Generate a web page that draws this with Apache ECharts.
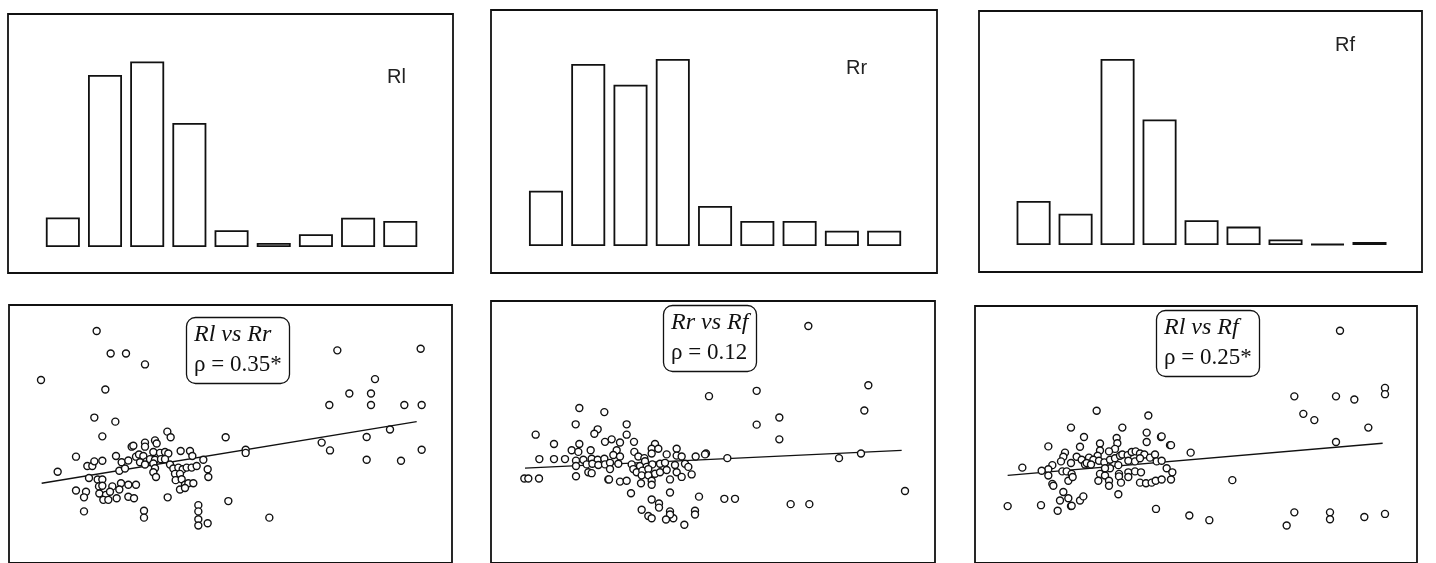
<!DOCTYPE html>
<html>
<head>
<meta charset="utf-8">
<script src="https://cdn.jsdelivr.net/npm/echarts@6/dist/echarts.min.js"></script>
<style>
html,body{margin:0;padding:0;background:#fff;overflow:hidden;}
#chart{width:1436px;height:563px;}
</style>
</head>
<body>
<div id="chart"></div>
<script>
// ---- histogram data (bin index, relative frequency) ----
const bins = [1, 2, 3, 4, 5, 6, 7, 8, 9];
const rlCounts = [7.4, 43, 46.4, 31, 4.2, 1, 3.2, 7.3, 6.5];
const rrCounts = [13.8, 45.5, 40.3, 46.75, 10, 6.25, 6.25, 3.8, 3.8];
const rfCounts = [11, 7.8, 46.5, 31.4, 6.2, 4.6, 1.4, 0.25, 0.75];
const histLabels = ['Rl', 'Rr', 'Rf'];

// ---- scatter data (read-off units) ----
const rlVsRr = [
[290,128],[332,200],[378,200],[435,235],[123,285],[316,315],[283,405],[346,418],[307,465],[1012,190],[1262,185],[1125,282],[1048,328],[1113,328],[988,365],[1113,365],[1213,365],[1265,365],[1170,443],[1100,467],[965,485],[990,510],[1265,508],[1100,540],[1203,543],[677,468],[737,508],[737,518],[173,578],[228,530],[252,705],[432,703],[432,725],[595,685],[595,705],[595,730],[595,750],[623,743],[808,725],[685,672],[503,660],
[395,498],[348,528],[262,560],[277,560],[283,545],[307,543],[365,548],[385,542],[408,530],[358,575],[375,568],[267,598],[293,603],[307,603],[297,625],[307,623],[363,615],[385,620],[408,620],[337,625],[358,635],[228,638],[258,642],[252,660],[298,648],[318,652],[330,642],[310,668],[325,668],[350,663],[385,658],[402,663],
[502,450],[512,468],[435,485],[435,498],[465,478],[470,488],[400,495],[417,523],[430,528],[460,515],[480,518],[495,515],[505,520],[542,512],[570,512],[577,528],[610,540],[420,548],[440,545],[450,538],[465,540],[483,538],[495,538],[435,555],[460,552],[465,567],[460,580],[468,595],[510,555],[520,568],[535,565],[548,570],[560,565],[575,565],[590,560],[525,585],[540,585],[527,605],[545,602],[555,620],[565,615],[580,615],[623,570],[625,595],[540,635],[555,630]
];
const rrVsRf = [
[985,113],[1165,302],[1153,383],[830,320],[687,337],[830,428],[898,405],[898,475],[1143,520],[1077,535],[1275,640],[932,682],[988,682],[733,665],[765,665],[742,535],[678,520],[647,530],[657,658],[645,703],[645,715],[613,748],[580,727],[570,705],[570,715],[558,731],[570,645],[537,680],[537,693],[515,667],[485,700],[505,720],[515,727],[453,647],[167,460],[178,538],[222,538],[255,538],[222,490],[133,600],[145,600],[177,600],[288,593],[298,375],[373,388],[287,427],[440,427],[353,443],[343,457],[440,460],[462,483],
[298,490],[275,510],[295,515],[332,510],[375,483],[288,543],[310,540],[335,537],[353,540],[373,537],[288,560],[320,555],[337,553],[355,557],[375,555],[325,580],[335,583],[385,603],[395,475],[420,485],[525,490],[410,510],[400,525],[420,530],[463,515],[475,530],[493,535],[515,505],[535,505],[515,520],[560,523],[590,505],[590,527],[605,530],[675,523],[390,550],[415,553],[455,555],[480,560],[495,545],[500,563],[517,555],[540,553],[555,550],[585,557],[615,553],[625,563],[390,570],[460,570],[470,580],[487,575],[505,570],[525,585],[540,580],[560,573],[590,580],[605,595],[635,587],[485,590],[505,590],[387,603],[420,610],[440,607],[483,615],[515,607],[515,620],[570,603]
];
const rlVsRf = [
[1140,127],[1275,310],[1275,330],[1003,337],[1128,337],[1183,347],[1030,393],[1063,413],[1225,437],[1128,483],[410,383],[565,398],[333,437],[487,437],[372,467],[603,467],[560,453],[560,483],[265,497],[630,493],[692,517],[817,605],[187,565],[143,688],[243,685],[293,703],[333,688],[588,697],[688,718],[748,733],[980,750],[1003,708],[1110,708],[1110,730],[1213,723],[1275,713],[475,650],
[360,498],[315,517],[310,530],[303,545],[333,550],[350,530],[365,540],[375,555],[277,557],[265,570],[245,575],[265,590],[307,577],[320,577],[335,585],[325,607],[338,595],[277,617],[280,623],[310,643],[325,663],[300,670],[335,687],[360,670],[370,657],
[605,465],[633,493],[420,488],[470,470],[472,487],[465,505],[420,510],[447,513],[413,527],[387,533],[400,540],[380,550],[393,555],[417,543],[433,548],[450,540],[465,535],[480,527],[487,523],[503,525],[515,515],[527,513],[540,520],[553,523],[505,543],[525,545],[540,535],[570,533],[585,523],[590,545],[605,543],[620,567],[637,580],[420,585],[435,590],[415,607],[447,607],[447,623],[477,585],[477,593],[483,613],[505,580],[505,595],[525,577],[543,580],[475,557],[450,567],[435,567],[540,613],[558,615],[575,613],[587,607],[605,603],[633,603]
];
// fitted regression lines (endpoints)
const fitRlRr = [[125,615],[1250,418]];
const fitRrRf = [[135,567],[1265,510]];
const fitRlRf = [[143,590],[1268,487]];

const pairTitles = ['Rl vs Rr', 'Rr vs Rf', 'Rl vs Rf'];
const rhoLabels = ['\u03c1 = 0.35*', '\u03c1 = 0.12', '\u03c1 = 0.25*'];

const chart = echarts.init(document.getElementById('chart'), null, {renderer: 'canvas'});

const histGrids = [
  {left: 8, top: 14, width: 445, height: 259},
  {left: 491, top: 10, width: 446, height: 263},
  {left: 979, top: 11, width: 443, height: 261}
];
const histY = [[-6.5, 58.25], [-6.75, 59], [-6.75, 58.5]];
const scatGrids = [
  {left: 9, top: 305, width: 443, height: 275},
  {left: 491, top: 301, width: 444, height: 279},
  {left: 975, top: 306, width: 442, height: 274}
];
const scatX = [[27, 1356], [33, 1365], [45, 1371]];
const scatY = [[45, 870], [33, 870], [48, 870]];

const gridStyle = {show: true, borderColor: '#111', borderWidth: 1.8, backgroundColor: 'transparent'};
const hiddenAxis = {axisLine: {show: false}, axisTick: {show: false}, axisLabel: {show: false}, splitLine: {show: false}};

const grids = [], xAxes = [], yAxes = [], series = [];
histGrids.forEach((g, i) => {
  grids.push(Object.assign({}, gridStyle, g));
  xAxes.push(Object.assign({type: 'value', gridIndex: i, min: -0.3, max: 10.25}, hiddenAxis));
  yAxes.push(Object.assign({type: 'value', gridIndex: i, min: histY[i][0], max: histY[i][1]}, hiddenAxis));
});
scatGrids.forEach((g, i) => {
  grids.push(Object.assign({}, gridStyle, g));
  xAxes.push(Object.assign({type: 'value', gridIndex: 3 + i, min: scatX[i][0], max: scatX[i][1]}, hiddenAxis));
  yAxes.push(Object.assign({type: 'value', gridIndex: 3 + i, inverse: true, min: scatY[i][0], max: scatY[i][1]}, hiddenAxis));
});

[rlCounts, rrCounts, rfCounts].forEach((arr, i) => {
  series.push({
    type: 'bar', xAxisIndex: i, yAxisIndex: i, barWidth: 34,
    data: bins.map((b, k) => [b, arr[k]]),
    itemStyle: {color: '#fff', borderColor: '#111', borderWidth: 1.8},
    silent: true, animation: false
  });
});
[rlVsRr, rrVsRf, rlVsRf].forEach((pts, i) => {
  series.push({
    type: 'scatter', xAxisIndex: 3 + i, yAxisIndex: 3 + i,
    symbol: 'circle', symbolSize: 7,
    data: pts,
    itemStyle: {color: '#fff', borderColor: '#111', borderWidth: 1.4, opacity: 1},
    silent: true, animation: false
  });
});
[fitRlRr, fitRrRf, fitRlRf].forEach((ln, i) => {
  series.push({
    type: 'line', xAxisIndex: 3 + i, yAxisIndex: 3 + i, data: ln,
    symbol: 'none', lineStyle: {color: '#111', width: 1.3}, z: 1,
    silent: true, animation: false
  });
});

const titles = [];
const histLabelPos = [[382, 62], [841, 53], [1330, 30]];
histLabels.forEach((t, i) => {
  titles.push({text: t, left: histLabelPos[i][0], top: histLabelPos[i][1],
    textStyle: {fontFamily: 'Liberation Sans, Arial, sans-serif', fontSize: 20, fontWeight: 'normal', color: '#222'}});
});
const boxPos = [[186, 317], [663, 305], [1156, 310]];
pairTitles.forEach((t, i) => {
  titles.push({
    text: t, subtext: rhoLabels[i], left: boxPos[i][0], top: boxPos[i][1],
    textAlign: 'left', itemGap: 4, padding: [5, 8, 6, 8],
    borderColor: '#111', borderWidth: 1.3, borderRadius: 9, backgroundColor: '#fff',
    textStyle: {fontFamily: 'Liberation Serif, Times New Roman, serif', fontStyle: 'italic', fontSize: 24, fontWeight: 'normal', color: '#111', lineHeight: 26},
    subtextStyle: {fontFamily: 'Liberation Serif, Times New Roman, serif', fontSize: 23, color: '#111', lineHeight: 26}
  });
});

chart.setOption({
  animation: false,
  backgroundColor: '#fff',
  title: titles,
  grid: grids,
  xAxis: xAxes,
  yAxis: yAxes,
  series: series
});
</script>
</body>
</html>
